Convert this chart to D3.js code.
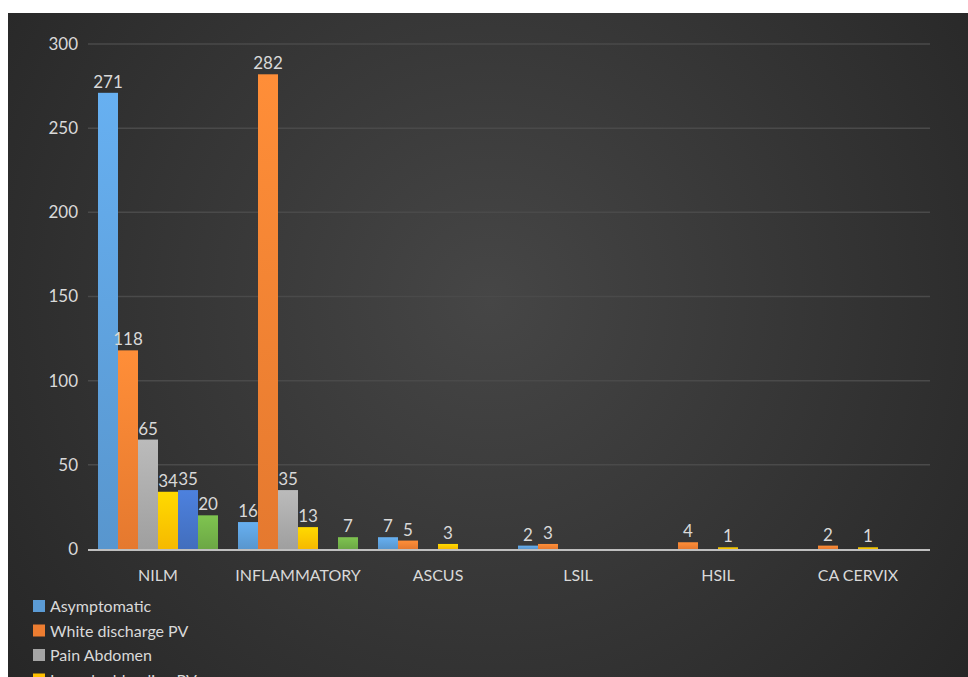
<!DOCTYPE html>
<html>
<head>
<meta charset="utf-8">
<script src="https://cdn.jsdelivr.net/npm/d3@7"></script>
<style>
  body { margin: 0; background: #fff; }
  svg { display: block; }
  text { font-family: Lato, "Open Sans", sans-serif; fill: #d9d9d9; }
</style>
</head>
<body>
<script>
// DATA

const categories = ['NILM', 'INFLAMMATORY', 'ASCUS', 'LSIL', 'HSIL', 'CA CERVIX'];
const seriesNames = ['Asymptomatic', 'White discharge PV', 'Pain Abdomen',
    'Irregular bleeding PV', 'Post coital bleeding', 'Others'];
const seriesColors = ['#5b9bd5', '#ed7d31', '#a5a5a5', '#ffc000', '#4472c4', '#70ad47'];
const asymptomatic = [271, 16, 7, 2, 0, 0];
const whiteDischarge = [118, 282, 5, 3, 4, 2];
const painAbdomen = [65, 35, 0, 0, 0, 0];
const irregularBleeding = [34, 13, 3, 0, 1, 1];
const postCoital = [35, 0, 0, 0, 0, 0];
const others = [20, 7, 0, 0, 0, 0];
const yTicks = [0, 50, 100, 150, 200, 250, 300];

const seriesValues = [asymptomatic, whiteDischarge, painAbdomen,
    irregularBleeding, postCoital, others];

// LAYOUT

const width = 968, height = 677;
const plotLeft = 88, plotRight = 928, plotTop = 44, plotBottom = 549;

const svg = d3.select('body')
    .append('svg')
    .attr('width', width)
    .attr('height', height);

const defs = svg.append('defs');

const bg = defs.append('radialGradient')
    .attr('id', 'bg')
    .attr('gradientUnits', 'userSpaceOnUse')
    .attr('cx', 490).attr('cy', 300).attr('r', 620);
bg.append('stop').attr('offset', '0').attr('stop-color', '#464646');
bg.append('stop').attr('offset', '1').attr('stop-color', '#262626');

seriesColors.forEach(function(c, i){
    const g = defs.append('linearGradient')
        .attr('id', 'bar' + i)
        .attr('x1', 0).attr('y1', 0).attr('x2', 0).attr('y2', 1);
    g.append('stop').attr('offset', '0').attr('stop-color', d3.color(c).brighter(0.35));
    g.append('stop').attr('offset', '1').attr('stop-color', d3.color(c).darker(0.1));
});

const chart = svg.append('g');

chart.append('rect')
    .attr('x', 8).attr('y', 13)
    .attr('width', width - 8).attr('height', height - 13)
    .attr('fill', 'url(#bg)');

// SCALES

const x0 = d3.scaleBand()
    .domain(categories)
    .range([plotLeft, plotRight]);

const x1 = d3.scaleBand()
    .domain(d3.range(seriesNames.length))
    .range([0, x0.bandwidth()])
    .paddingOuter(0.5);

const yScale = d3.scaleLinear()
    .domain([0, 300])
    .range([plotBottom, plotTop]);

// GRID

chart.append('g')
    .selectAll('line')
    .data(yTicks.slice(1))
    .enter()
    .append('line')
    .attr('x1', plotLeft).attr('x2', plotRight + 2)
    .attr('y1', function(d){ return yScale(d); })
    .attr('y2', function(d){ return yScale(d); })
    .attr('stroke', '#4a4a4a')
    .attr('stroke-width', 1.5);

const yAxis = d3.axisLeft(yScale)
    .tickValues(yTicks)
    .tickSize(0)
    .tickPadding(10);

const axis = chart.append('g')
    .attr('transform', 'translate(' + plotLeft + ',0)')
    .call(yAxis);
axis.select('.domain').remove();
axis.selectAll('text')
    .style('font-size', '17px')
    .style('font-family', 'Lato, sans-serif')
    .attr('fill', '#d9d9d9');

// BARS

const groups = chart.selectAll('.group')
    .data(categories)
    .enter()
    .append('g')
    .attr('class', 'group')
    .attr('transform', function(d){ return 'translate(' + x0(d) + ',0)'; });

const cells = groups.selectAll('.cell')
    .data(function(d, ci){
        return seriesValues.map(function(vals, si){
            return { s: si, v: vals[ci] };
        });
    })
    .enter()
    .append('g')
    .attr('class', 'cell');

cells.filter(function(d){ return d.v > 0; })
    .append('rect')
    .attr('x', function(d){ return x1(d.s); })
    .attr('width', x1.bandwidth())
    .attr('y', function(d){ return yScale(d.v); })
    .attr('height', function(d){ return plotBottom - yScale(d.v); })
    .attr('fill', function(d){ return 'url(#bar' + d.s + ')'; });

cells.filter(function(d){ return d.v > 0; })
    .append('text')
    .attr('x', function(d){ return x1(d.s) + x1.bandwidth() / 2; })
    .attr('y', function(d){ return yScale(d.v) - 5; })
    .attr('text-anchor', 'middle')
    .style('font-size', '17px')
    .text(function(d){ return d.v; });

// BASELINE

chart.append('line')
    .attr('x1', plotLeft).attr('x2', plotRight + 2)
    .attr('y1', plotBottom + 1).attr('y2', plotBottom + 1)
    .attr('stroke', '#bfbfbf')
    .attr('stroke-width', 2);

// CATEGORY LABELS

chart.append('g')
    .selectAll('text')
    .data(categories)
    .enter()
    .append('text')
    .attr('x', function(d){ return x0(d) + x0.bandwidth() / 2; })
    .attr('y', 581)
    .attr('text-anchor', 'middle')
    .style('font-size', '16px')
    .text(function(d){ return d; });

// LEGEND

const legend = chart.selectAll('.legend')
    .data(seriesNames)
    .enter()
    .append('g')
    .attr('class', 'legend')
    .attr('transform', function(d, i){ return 'translate(33,' + (600 + i * 24.5) + ')'; });

legend.append('rect')
    .attr('width', 12).attr('height', 12)
    .attr('fill', function(d, i){ return seriesColors[i]; });

legend.append('text')
    .attr('x', 17)
    .attr('y', 12)
    .style('font-size', '16px')
    .text(function(d){ return d; });
</script>
</body>
</html>
